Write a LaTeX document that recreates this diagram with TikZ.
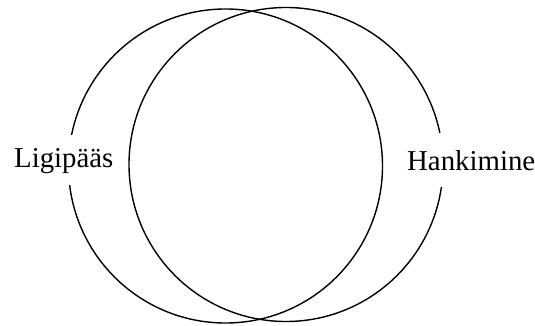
\documentclass[tikz,border=0pt]{standalone}
\usepackage{fontspec}
\setmainfont{Liberation Serif}
\begin{document}
\begin{tikzpicture}[x=1pt,y=-1pt,
  ring/.style={draw=black,line width=1.4pt},
  lbl/.style={fill=white,inner xsep=4pt,anchor=base west,font=\fontsize{28.8}{34}\selectfont}]
\useasboundingbox (0,0) rectangle (535,326);
\node[ring,circle,minimum size=314pt,inner sep=0pt] (A) at (225.5,166) {};
\node[ring,circle,minimum size=314pt,inner sep=0pt] (B) at (286,164.5) {};
\node[lbl,text height=20pt,text depth=6pt,inner ysep=12pt] (L) at (10,167) {Ligipääs};
\node[lbl,text height=20pt,text depth=0pt,inner ysep=17pt] (H) at (403,170) {Hankimine};
\end{tikzpicture}
\end{document}
